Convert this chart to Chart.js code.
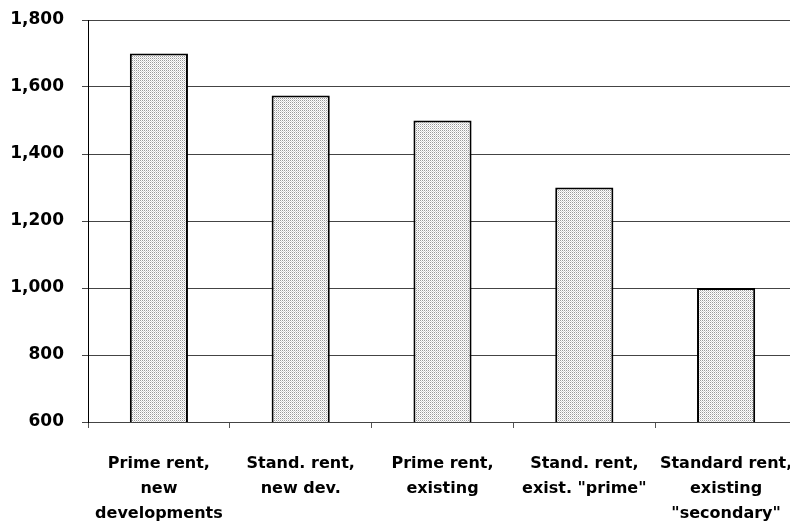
<!DOCTYPE html>
<html>
<head>
<meta charset="utf-8">
<script src="https://cdn.jsdelivr.net/npm/chart.js@4/dist/chart.umd.min.js"></script>
<style>
  html, body { margin: 0; padding: 0; background: #fff; overflow: hidden; }
  #wrap { width: 797px; height: 526px; position: relative; }
</style>
</head>
<body>
<div id="wrap"><canvas id="c"></canvas></div>
<script>
// Rent levels by segment
const categories = [
  ["Prime rent,", "new", "developments"],
  ["Stand. rent,", "new dev."],
  ["Prime rent,", "existing"],
  ["Stand. rent,", "exist. \"prime\""],
  ["Standard rent,", "existing", "\"secondary\""]
];
const rentValues = [1700, 1575, 1500, 1300, 1000];
const yMin = 600, yMax = 1800, yStep = 200;

// Fine stipple fill for the bars
function stipple() {
  const p = document.createElement('canvas');
  p.width = 4; p.height = 4;
  const g = p.getContext('2d');
  g.fillStyle = '#ffffff';
  g.fillRect(0, 0, 4, 4);
  g.fillStyle = '#9a9a9a';
  [[0,0],[2,0],[0,2],[2,2]].forEach(([x, y]) => g.fillRect(x, y, 1, 1));
  g.fillStyle = '#d4d4d4';
  [[1,1],[3,3],[1,3],[3,1]].forEach(([x, y]) => g.fillRect(x, y, 1, 1));
  return g.createPattern(p, 'repeat');
}

const fontFamily = '"DejaVu Sans", Verdana, sans-serif';

new Chart(document.getElementById('c'), {
  type: 'bar',
  data: {
    labels: categories,
    datasets: [{
      data: rentValues,
      backgroundColor: stipple(),
      borderColor: '#000',
      borderWidth: 2,
      borderSkipped: 'bottom',
      categoryPercentage: 0.41,
      barPercentage: 1
    }]
  },
  options: {
    responsive: true,
    maintainAspectRatio: false,
    animation: false,
    layout: { padding: { top: 20, right: 0, left: 0, bottom: 0 } },
    plugins: { legend: { display: false }, tooltip: { enabled: false } },
    scales: {
      x: {
        offset: true,
        afterFit: s => { s.height = 104; s.paddingLeft = 0; s.paddingRight = 0; },
        grid: { drawOnChartArea: false, drawTicks: true, tickLength: 6, color: '#555', offset: true },
        border: { display: true, color: '#444', width: 1 },
        ticks: {
          color: '#000',
          maxRotation: 0,
          autoSkip: false,
          padding: 23,
          font: { family: fontFamily, size: 16, weight: 'bold', lineHeight: 1.56 }
        }
      },
      y: {
        min: yMin, max: yMax,
        afterFit: s => { s.width = 88; s.paddingTop = 0; s.paddingBottom = 0; },
        grid: { color: '#444', lineWidth: 1, tickLength: 6 },
        border: { display: true, color: '#000', width: 1 },
        ticks: {
          stepSize: yStep,
          color: '#000',
          padding: 18,
          callback: v => v.toLocaleString('en-US'),
          font: { family: fontFamily, size: 17, weight: 'bold' }
        }
      }
    }
  }
});
</script>
</body>
</html>
